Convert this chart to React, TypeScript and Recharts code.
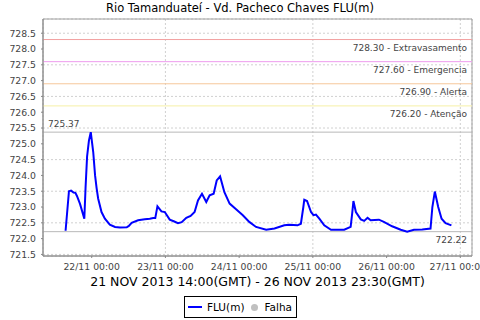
import { LineChart, Line, XAxis, YAxis, CartesianGrid, ReferenceLine, ReferenceArea } from 'recharts';

// hours counted from 21/11/2013 00:00 (GMT)
const hours = [
  15.5, 16.6, 17.3, 18.1, 18.7, 19.2, 20.2, 21.6, 22.0, 22.5,
  23.1, 23.7, 24.5, 25.1, 25.6, 26.1, 27.2, 28.3, 29.9, 31.6,
  33.2, 35.4, 36.1, 37.0, 39.1, 41.3, 42.9, 44.0, 44.7, 45.4,
  46.7, 47.8, 49.4, 50.7, 52.1, 53.3, 54.8, 56.2, 57.5, 58.6,
  59.9, 61.3, 62.4, 63.7, 64.7, 65.8, 67.2, 68.9, 71.0, 73.2,
  75.3, 77.5, 80.8, 83.5, 86.7, 88.3, 91.0, 92.1, 92.9, 93.2,
  94.1, 95.4, 96.2, 97.0, 98.1, 99.7, 101.9, 106.2, 108.3, 108.8,
  109.2, 110.0, 111.6, 112.7, 113.8, 114.8, 117.5, 119.1, 121.8, 124.6,
  126.7, 128.9, 131.6, 134.3, 134.9, 135.7, 136.8, 137.9, 139.2, 141.1,
];

const levels = [
  722.25, 723.5, 723.52, 723.46, 723.45, 723.35, 723.1, 722.63, 723.6, 724.6,
  725.1, 725.37, 724.74, 724.0, 723.6, 723.27, 722.84, 722.63, 722.44, 722.37,
  722.35, 722.36, 722.4, 722.5, 722.58, 722.61, 722.63, 722.65, 722.65, 723.02,
  722.86, 722.84, 722.6, 722.55, 722.49, 722.52, 722.66, 722.72, 722.84, 723.21,
  723.42, 723.16, 723.37, 723.42, 723.84, 723.97, 723.47, 723.11, 722.93, 722.74,
  722.53, 722.37, 722.28, 722.32, 722.42, 722.44, 722.42, 722.47, 723.0, 723.23,
  723.19, 722.84, 722.74, 722.76, 722.63, 722.42, 722.28, 722.28, 722.37, 722.8,
  723.19, 722.84, 722.61, 722.56, 722.66, 722.58, 722.6, 722.53, 722.39, 722.28,
  722.22, 722.28, 722.29, 722.32, 723.0, 723.49, 723.0, 722.63, 722.49, 722.42,
];

const yTicks = [721.5, 722, 722.5, 723, 723.5, 724, 724.5, 725, 725.5, 726, 726.5, 727, 727.5, 728, 728.5];
const xTicks = [24, 48, 72, 96, 120, 144];
const xTickLabels = ['22/11 00:00', '23/11 00:00', '24/11 00:00', '25/11 00:00', '26/11 00:00', '27/11 00:00'];

const markerValues = [728.3, 727.6, 726.9, 726.2];
const markerNames = ['Extravasamento', 'Emergencia', 'Alerta', 'Atenção'];
const markerColors = ['#f2a0a0', '#ee9cee', '#f6c89a', '#f6f0a6'];

const title = 'Rio Tamanduateí - Vd. Pacheco Chaves FLU(m)';
const periodLabel = '21 NOV 2013 14:00(GMT) - 26 NOV 2013 23:30(GMT)';

const data = hours.map((h, i) => ({ h, flu: levels[i] }));
const maxLevel = Math.max(...levels);
const minLevel = Math.min(...levels);

const X_DOMAIN = [8.15, 147.8];
const Y_DOMAIN = [721.45, 728.95];
const FONT = '"DejaVu Sans", sans-serif';

export default function App() {
  return (
    <div style={{ position: 'absolute', left: 0, top: 0, width: 480, height: 320, background: '#fff', fontFamily: FONT }}>
      <div style={{ position: 'absolute', left: 0, top: 1, width: 480, textAlign: 'center', fontSize: 11.5, color: '#000', lineHeight: 'normal' }}>
        {title}
      </div>
      <LineChart width={480} height={320} data={data} margin={{ top: 19, right: 8, bottom: 0, left: 0 }}>
        <CartesianGrid stroke="#d0d0d0" strokeDasharray="2 2" horizontalPoints={undefined} />
        <ReferenceArea x1={X_DOMAIN[0]} x2={X_DOMAIN[1]} y1={Y_DOMAIN[0]} y2={Y_DOMAIN[1]} fill="none" stroke="#a0a0a0" fillOpacity={0} />
        <XAxis
          type="number"
          dataKey="h"
          domain={X_DOMAIN}
          ticks={xTicks}
          tickFormatter={(v) => xTickLabels[xTicks.indexOf(v)]}
          height={64}
          stroke="#888"
          tickSize={2}
          tickMargin={5}
          tick={{ fontSize: 9.3, fill: '#444', fontFamily: FONT }}
          label={{ value: periodLabel, position: 'insideTop', offset: 21, fontSize: 12.5, fill: '#000', fontFamily: FONT }}
        />
        <YAxis
          type="number"
          domain={Y_DOMAIN}
          ticks={yTicks}
          tickFormatter={(v) => v.toFixed(1)}
          width={43}
          stroke="#888"
          tickSize={2}
          tickMargin={5}
          tick={{ fontSize: 9.3, fill: '#444', fontFamily: FONT }}
        />
        {markerValues.map((v, i) => (
          <ReferenceLine
            key={v}
            y={v}
            stroke={markerColors[i]}
            strokeWidth={1}
            label={{ value: `${v.toFixed(2)} - ${markerNames[i]}`, position: 'insideTopRight', offset: 5, fontSize: 9, fill: '#444', fontFamily: FONT }}
          />
        ))}
        <ReferenceLine
          y={maxLevel}
          stroke="#b8b8b8"
          label={{ value: maxLevel.toFixed(2), position: 'insideBottomLeft', offset: 5, fontSize: 9, fill: '#444', fontFamily: FONT }}
        />
        <ReferenceLine
          y={minLevel}
          stroke="#b8b8b8"
          label={{ value: minLevel.toFixed(2), position: 'insideTopRight', offset: 5, fontSize: 9, fill: '#444', fontFamily: FONT }}
        />
        <Line type="linear" dataKey="flu" stroke="#0000ff" strokeWidth={2} dot={false} isAnimationActive={false} />
      </LineChart>
      <div
        style={{
          position: 'absolute', left: 184, top: 296, width: 111, height: 20, border: '1px solid #000',
          display: 'flex', alignItems: 'center', fontSize: 10.5, color: '#000',
        }}
      >
        <span style={{ display: 'inline-block', width: 14, height: 2, background: '#0000ff', marginLeft: 3, marginRight: 5 }} />
        <span>FLU(m)</span>
        <span style={{ display: 'inline-block', width: 7, height: 7, borderRadius: '50%', background: '#c0c0c0', marginLeft: 7, marginRight: 6 }} />
        <span>Falha</span>
      </div>
    </div>
  );
}
